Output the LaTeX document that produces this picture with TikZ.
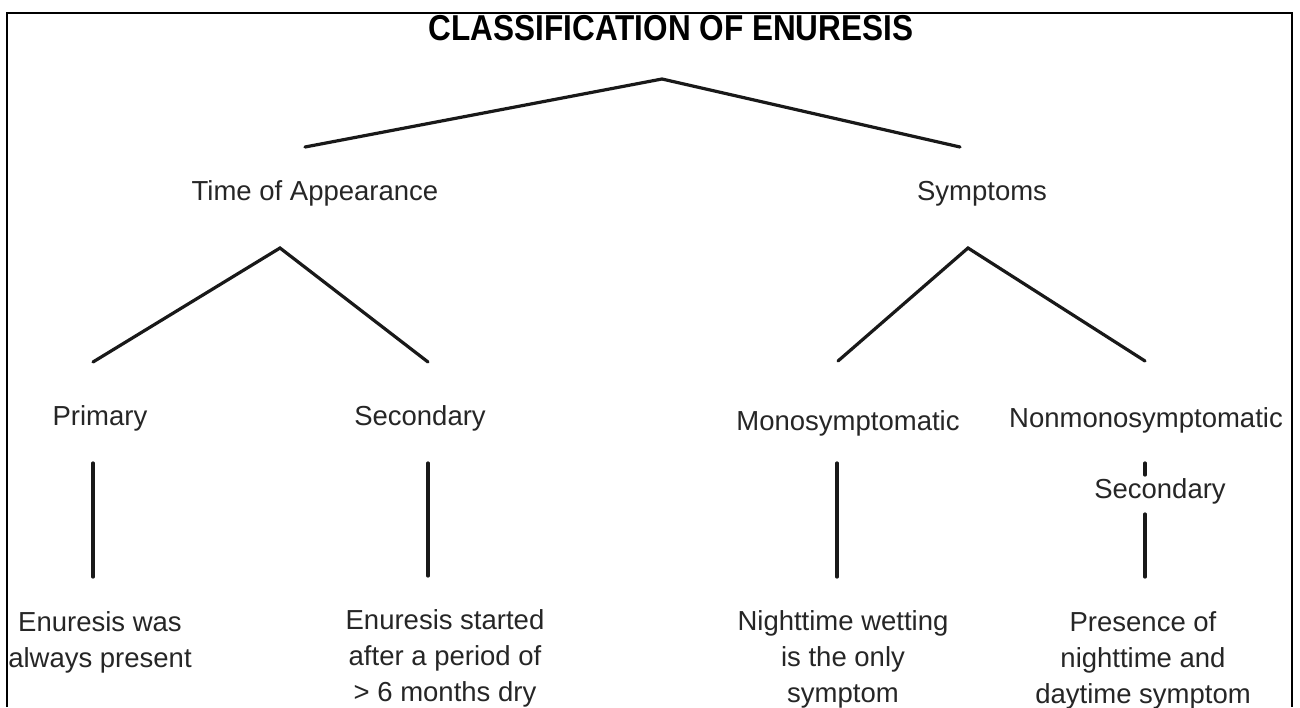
\documentclass[tikz,border=0pt]{standalone}
\usepackage{fontspec}
\setmainfont{Liberation Sans}
\newfontfamily\titlefont[FakeStretch=0.875]{Liberation Sans}
\begin{document}
\begin{tikzpicture}[x=1pt,y=-1pt,
  lbl/.style={font=\fontsize{27.5}{36}\selectfont, text=black!85, inner sep=0pt, anchor=base, align=center},
  conn/.style={line width=3.2pt, line cap=round, line join=miter, black!90},
  frameline/.style={line width=1.5pt, black}]
\useasboundingbox (0,0) rectangle (1300,707);
\fill[white] (0,0) rectangle (1300,707);
% title
\node[lbl, font=\titlefont\bfseries\fontsize{36}{40}\selectfont, text=black] (title) at (671,40) {CLASSIFICATION OF ENURESIS};
% level 1 labels
\node[lbl] (toa) at (315,200) {Time of Appearance};
\node[lbl] (sym) at (982,200) {Symptoms};
% level 2 labels
\node[lbl] (prim) at (100,425) {Primary};
\node[lbl] (sec) at (420,425) {Secondary};
\node[lbl] (mono) at (848,430) {Monosymptomatic};
\node[lbl] (nonmono) at (1146,427) {Nonmonosymptomatic};
\node[lbl] (sec2) at (1160,498) {Secondary};
% leaves (anchor base = last line's baseline)
\node[lbl] (leafA) at (100,667) {Enuresis was\\always present};
\node[lbl] (leafB) at (445,701) {Enuresis started\\after a period of\\{>} 6 months dry};
\node[lbl] (leafC) at (843,702) {Nighttime wetting\\is the only\\symptom};
\node[lbl] (leafD) at (1143,703) {Presence of\\nighttime and\\daytime symptom};
% connector points
\coordinate (rootApex) at (662,79);
\coordinate (rootL) at (305,147);
\coordinate (rootR) at (960,147);
\coordinate (toaApex) at (280,248);
\coordinate (toaL) at (93,362);
\coordinate (toaR) at (428,362);
\coordinate (symApex) at (968,248);
\coordinate (symL) at (838,361);
\coordinate (symR) at (1145,361);
\coordinate (primTop) at (93,463);
\coordinate (primBot) at (93,577);
\coordinate (secTop) at (428,463);
\coordinate (secBot) at (428,576);
\coordinate (monoTop) at (837,463);
\coordinate (monoBot) at (837,577);
\coordinate (nonTop) at (1145,463);
\coordinate (nonBot) at (1145,475);
\coordinate (sec2Top) at (1145,514);
\coordinate (sec2Bot) at (1145,577);
% connectors
\draw[conn] (rootL) -- (rootApex) -- (rootR);
\draw[conn] (toaL) -- (toaApex) -- (toaR);
\draw[conn] (symL) -- (symApex) -- (symR);
\draw[conn] (primTop) -- (primBot);
\draw[conn] (secTop) -- (secBot);
\draw[conn] (monoTop) -- (monoBot);
\draw[conn] (nonTop) -- (nonBot);
\draw[conn] (sec2Top) -- (sec2Bot);
% frame
\draw[frameline] (7,707) -- (7,13) -- (1292,13) -- (1292,707);
\end{tikzpicture}
\end{document}
